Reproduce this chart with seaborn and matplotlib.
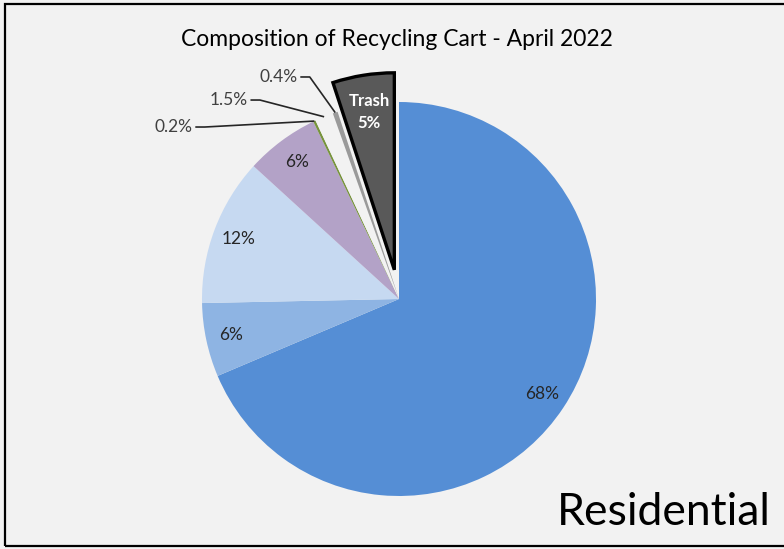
import matplotlib
matplotlib.use("Agg")
import matplotlib.pyplot as plt
import seaborn as sns
import numpy as np
from matplotlib.patches import Rectangle

# Share of each material in the cart, clockwise from 12 o'clock (percent)
values = [68, 6, 12, 6, 0.2, 1.5, 0.4, 5]
names = ["", "", "", "", "", "", "", "Trash"]
colors = ["#558ED5", "#8EB4E3", "#C6D9F1", "#B3A2C7", "#77933C",
          "#F2F2F2", "#9A9A9A", "#595959"]
explode = [0, 0, 0, 0, 0, 0, 0, 0.15]
title = "Composition of Recycling Cart - April 2022"
corner_label = "Residential"

# Thin slices get an outside label with a leader line (right edge of text, axes units)
callout_anchor = {4: (-1.046, 0.873), 5: (-0.766, 1.010), 6: (-0.513, 1.127)}

sns.set_theme(style="white")
plt.rcParams["font.family"] = ["Lato", "DejaVu Sans"]

W, H = 784, 549
fig = plt.figure(figsize=(W / 100, H / 100), dpi=100, facecolor="#F2F2F2")

# pie centre and radius in pixels
cx_px, cy_px, r_px = 399, 299, 197
ax = fig.add_axes([(cx_px - r_px) / W, (H - cy_px - r_px) / H, 2 * r_px / W, 2 * r_px / H])
ax.set_facecolor("#F2F2F2")

wedges, _ = ax.pie(values, colors=colors, explode=explode, startangle=90,
                   counterclock=False, radius=1, normalize=True,
                   wedgeprops=dict(linewidth=0))
ax.set_xlim(-1, 1)
ax.set_ylim(-1, 1)
ax.axis("off")

trash = wedges[-1]
trash.set_edgecolor("black")
trash.set_linewidth(2.4)
trash.set_joinstyle("miter")

for i, (w, v) in enumerate(zip(wedges, values)):
    mid = np.deg2rad((w.theta1 + w.theta2) / 2)
    ux, uy = np.cos(mid), np.sin(mid)
    cx, cy = w.center
    pct = f"{v:g}%"
    if i in callout_anchor:
        tx, ty = callout_anchor[i]
        ax.text(tx, ty, pct, ha="right", va="center", fontsize=12.5, color="#404040")
        ax.plot([tx + 0.012, tx + 0.06, cx + ux * 1.0], [ty, ty, cy + uy * 1.0],
                color="#262626", lw=1.2, solid_capstyle="butt", clip_on=False)
    elif names[i]:
        ax.text(cx + ux * 0.81, cy + uy * 0.81, f"{names[i]}\n{pct}",
                ha="center", va="center", fontsize=12, fontweight="bold",
                color="white", linespacing=1.45)
    else:
        ax.text(cx + ux * 0.87, cy + uy * 0.87, pct, ha="center", va="center",
                fontsize=12.5, color="#262626")

fig.text(397 / W, 1 - 40 / H, title, ha="center", va="center", fontsize=16.5, color="black")
fig.text(771 / W, 1 - 525 / H, corner_label, ha="right", va="baseline",
         fontsize=32, color="black")

fig.patches.append(Rectangle((5 / W, 3 / H), 1.0, (546 - 4) / H, transform=fig.transFigure,
                             fill=False, edgecolor="black", linewidth=1.6))

fig.savefig("out.png", dpi=100, facecolor=fig.get_facecolor())
